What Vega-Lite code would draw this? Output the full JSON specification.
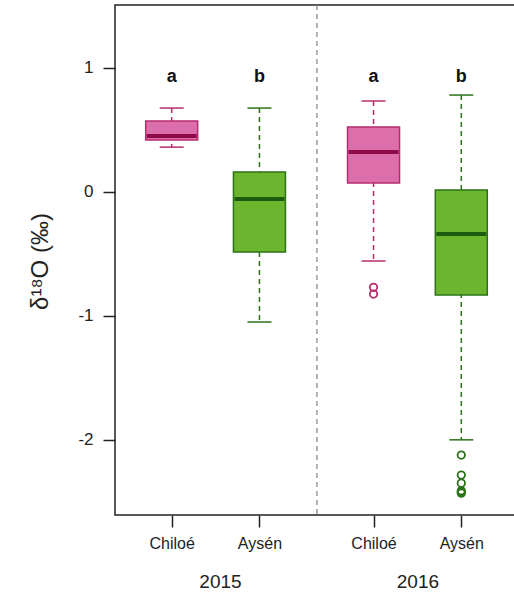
{
  "$schema": "https://vega.github.io/schema/vega-lite/v6.json",
  "autosize": "none",
  "padding": {"left": 115, "top": 5, "right": 0, "bottom": 80},
  "width": 400,
  "height": 510,
  "background": "white",
  "config": {
    "font": "Liberation Sans",
    "view": {"stroke": "#222", "strokeWidth": 1.5},
    "axisY": {
      "grid": false, "domain": false, "tickSize": 12, "tickWidth": 1.5, "tickColor": "#222",
      "labelFontSize": 17, "labelColor": "#222", "labelPadding": 10,
      "titleFontSize": 24, "titleFontWeight": "normal", "titleColor": "#222",
      "titleX": -63, "titleY": 256, "titleAngle": -90
    }
  },
  "datasets": {
    "boxes": [
      {"year": "2015", "site": "Chiloé", "pos": 1, "lo": 0.36, "q1": 0.417, "median": 0.45, "q3": 0.571, "hi": 0.675, "letter": "a"},
      {"year": "2015", "site": "Aysén", "pos": 2, "lo": -1.05, "q1": -0.486, "median": -0.058, "q3": 0.159, "hi": 0.675, "letter": "b"},
      {"year": "2016", "site": "Chiloé", "pos": 3.3, "lo": -0.558, "q1": 0.071, "median": 0.321, "q3": 0.522, "hi": 0.732, "letter": "a"},
      {"year": "2016", "site": "Aysén", "pos": 4.3, "lo": -2.0, "q1": -0.833, "median": -0.341, "q3": 0.014, "hi": 0.78, "letter": "b"}
    ],
    "outliers": [
      {"year": "2016", "site": "Chiloé", "pos": 3.3, "value": -0.77},
      {"year": "2016", "site": "Chiloé", "pos": 3.3, "value": -0.825},
      {"year": "2016", "site": "Aysén", "pos": 4.3, "value": -2.123},
      {"year": "2016", "site": "Aysén", "pos": 4.3, "value": -2.284},
      {"year": "2016", "site": "Aysén", "pos": 4.3, "value": -2.349},
      {"year": "2016", "site": "Aysén", "pos": 4.3, "value": -2.41},
      {"year": "2016", "site": "Aysén", "pos": 4.3, "value": -2.42},
      {"year": "2016", "site": "Aysén", "pos": 4.3, "value": -2.43}
    ],
    "divider": [{"x": 2.655}]
  },
  "resolve": {"axis": {"x": "independent"}},
  "layer": [
    {
      "data": {"name": "divider"},
      "mark": {"type": "rule", "color": "#888", "strokeDash": [5, 4], "strokeWidth": 1.3},
      "encoding": {
        "x": {"field": "x", "type": "quantitative", "scale": {"domain": [0.411, 4.855], "nice": false, "zero": false},
          "axis": {"orient": "bottom", "values": [1.55, 3.8], "labelExpr": "datum.value < 2.5 ? '2015' : '2016'",
            "ticks": false, "tickSize": 0, "domain": false, "grid": false, "title": null,
            "labelFontSize": 19, "labelColor": "#222", "labelPadding": 57, "labelBaseline": "top"}}
      }
    },
    {
      "data": {"name": "boxes"},
      "mark": {"type": "rule", "strokeDash": [5, 4], "strokeWidth": 1.5},
      "encoding": {
        "x": {"field": "pos", "type": "quantitative",
          "axis": {"orient": "bottom", "values": [1, 2, 3.3, 4.3],
            "labelExpr": "(datum.value < 1.5 || (datum.value > 3 && datum.value < 4)) ? 'Chiloé' : 'Aysén'",
            "tickSize": 12, "tickWidth": 1.5, "tickColor": "#222", "domain": false, "grid": false, "title": null,
            "labelFontSize": 16, "labelColor": "#222", "labelPadding": 8}},
        "y": {"field": "hi", "type": "quantitative", "title": "δ¹⁸O (‰)",
          "scale": {"domain": [-2.606, 1.506], "nice": false, "zero": false},
          "axis": {"values": [-2, -1, 0, 1], "labelExpr": "datum.value + ''"}},
        "y2": {"field": "lo"},
        "stroke": {"field": "site", "type": "nominal", "legend": null,
          "scale": {"domain": ["Chiloé", "Aysén"], "range": ["#b82c6e", "#2c7219"]}}
      }
    },
    {
      "data": {"name": "boxes"},
      "mark": {"type": "rule", "strokeWidth": 1.5, "xOffset": -12, "x2Offset": 12},
      "encoding": {
        "x": {"field": "pos", "type": "quantitative", "axis": null},
        "x2": {"field": "pos"},
        "y": {"field": "hi", "type": "quantitative", "title": "δ¹⁸O (‰)"},
        "stroke": {"field": "site", "type": "nominal", "legend": null}
      }
    },
    {
      "data": {"name": "boxes"},
      "mark": {"type": "rule", "strokeWidth": 1.5, "xOffset": -12, "x2Offset": 12},
      "encoding": {
        "x": {"field": "pos", "type": "quantitative", "axis": null},
        "x2": {"field": "pos"},
        "y": {"field": "lo", "type": "quantitative", "title": "δ¹⁸O (‰)"},
        "stroke": {"field": "site", "type": "nominal", "legend": null}
      }
    },
    {
      "data": {"name": "boxes"},
      "mark": {"type": "bar", "width": 52, "strokeWidth": 1.5},
      "encoding": {
        "x": {"field": "pos", "type": "quantitative", "axis": null},
        "y": {"field": "q1", "type": "quantitative", "title": "δ¹⁸O (‰)"},
        "y2": {"field": "q3"},
        "fill": {"field": "site", "type": "nominal", "legend": null,
          "scale": {"domain": ["Chiloé", "Aysén"], "range": ["#dc6eab", "#6cb52f"]}},
        "stroke": {"field": "site", "type": "nominal", "legend": null}
      }
    },
    {
      "data": {"name": "boxes"},
      "mark": {"type": "rule", "strokeWidth": 4, "xOffset": -25, "x2Offset": 25},
      "encoding": {
        "x": {"field": "pos", "type": "quantitative", "axis": null},
        "x2": {"field": "pos"},
        "y": {"field": "median", "type": "quantitative", "title": "δ¹⁸O (‰)"},
        "color": {"field": "site", "type": "nominal", "legend": null,
          "scale": {"domain": ["Chiloé", "Aysén"], "range": ["#8c0a47", "#1d5c0f"]}}
      }
    },
    {
      "data": {"name": "outliers"},
      "mark": {"type": "point", "shape": "circle", "filled": false, "size": 55, "strokeWidth": 1.8, "opacity": 1},
      "encoding": {
        "x": {"field": "pos", "type": "quantitative", "axis": null},
        "y": {"field": "value", "type": "quantitative", "title": "δ¹⁸O (‰)"},
        "stroke": {"field": "site", "type": "nominal", "legend": null}
      }
    },
    {
      "data": {"name": "boxes"},
      "mark": {"type": "text", "fontSize": 18, "fontWeight": "bold", "color": "#111", "baseline": "middle"},
      "encoding": {
        "x": {"field": "pos", "type": "quantitative", "axis": null},
        "y": {"datum": 0.925, "type": "quantitative", "title": "δ¹⁸O (‰)"},
        "text": {"field": "letter"}
      }
    }
  ]
}
